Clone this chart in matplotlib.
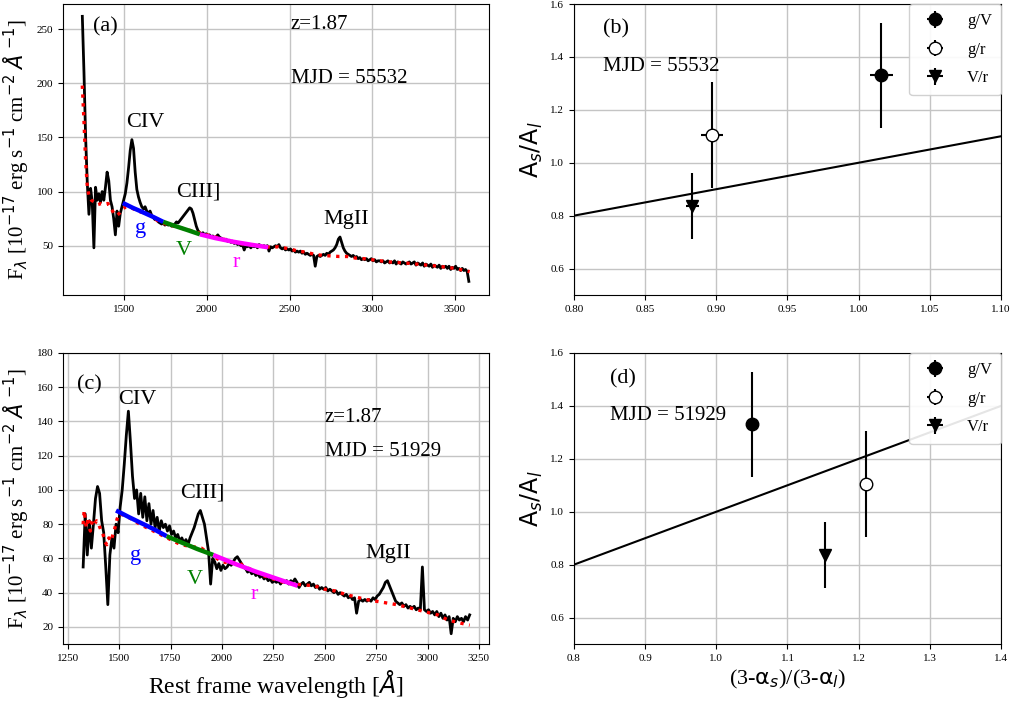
import numpy as np
import matplotlib
matplotlib.use("Agg")
import matplotlib.pyplot as plt

plt.rcParams['font.family'] = ['Liberation Serif', 'DejaVu Sans']
plt.rcParams['mathtext.fontset'] = 'dejavusans'

# ---------------- spectrum at MJD 55532 (10 A sampling from 1245 A) ----------------
start_a = 1245
flux_a = [
    262, 210, 150, 108, 79, 103, 90, 48, 104, 92,
    98, 90, 100, 92, 104, 118, 110, 92, 86, 75,
    60, 82, 68, 80, 86, 92, 98, 108, 122, 138,
    148, 140, 118, 102, 95, 90, 86, 84, 86, 82,
    80, 82, 78, 76, 74, 75, 72, 71, 70, 71,
    69, 70, 69, 70, 68, 69, 70, 72, 71, 73,
    75, 77, 79, 81, 83, 85, 84, 80, 74, 68,
    64, 62, 61, 62, 60, 61, 59, 60, 58, 59,
    57, 58, 60, 58, 57, 56, 55, 56, 54, 55,
    53, 54, 52, 53, 51, 52, 50, 51, 46, 50,
    49, 50, 48, 50, 49, 50, 48, 51, 50, 49,
    50, 49, 50, 45, 49, 48, 49, 50, 49, 51,
    48, 47, 48, 46, 47, 46, 47, 45, 46, 44,
    45, 44, 45, 43, 44, 42, 43, 42, 41, 42,
    41, 31, 40, 41, 40, 41, 42, 41, 43, 42,
    44, 45, 46, 48, 51, 56, 58, 53, 48, 45,
    43, 42, 41, 40, 41, 39, 40, 38, 39, 37,
    38, 37, 38, 36, 37, 38, 36, 37, 35, 36,
    36, 35, 36, 34, 35, 36, 34, 35, 34, 36,
    33, 35, 34, 33, 35, 34, 33, 34, 35, 33,
    34, 35, 32, 34, 33, 32, 34, 31, 33, 32,
    31, 33, 30, 32, 31, 30, 32, 29, 31, 30,
    31, 29, 31, 28, 30, 29, 31, 28, 29, 27,
    29, 27, 28, 26, 17,
]

model_wave_a = [1245, 1255, 1265, 1275, 1285, 1300, 1320, 1340, 1360, 1380,
                1400, 1420, 1440, 1455, 1470, 1490, 1510, 1540, 1570, 1600,
                1630, 1660, 1700, 1750, 1800, 1850, 1900, 1950, 2000, 2050,
                2100, 2150, 2200, 2250, 2300, 2350, 2400, 2430, 2500, 2550,
                2600, 2650, 2700, 2750, 2800, 2850, 2900, 2950, 3000, 3100,
                3200, 3300, 3400, 3500, 3590]
model_flux_a = [198, 165, 128, 105, 96, 92, 90, 88, 89, 88,
                89, 84, 79, 78, 80, 84, 86, 85, 83, 81,
                80, 78, 73, 70, 68, 66, 64, 62, 60, 58,
                56, 54, 52, 51, 50, 49, 48.5, 49, 47, 45,
                44, 42, 41, 40.5, 40, 40, 38.5, 38, 37, 35,
                34, 32.5, 31, 29, 26]

g_wave_a, g_flux_a = [1490, 1550, 1610, 1675, 1735], [89.5, 85, 81, 76.5, 72]
v_wave_a, v_flux_a = [1735, 1800, 1880, 1957], [72, 68.5, 64.5, 60.5]
r_wave_a, r_flux_a = [1957, 2050, 2160, 2270, 2370], [60.5, 57, 53.6, 50.8, 48.5]

# ---------------- spectrum at MJD 51929 (10 A sampling from 1325 A) ----------------
start_c = 1325
flux_c = [
    55, 86, 62, 82, 66, 80, 95, 102, 98, 82,
    75, 55, 33, 62, 72, 66, 80, 75, 90, 100,
    115, 132, 146, 128, 108, 95, 100, 86, 98, 84,
    96, 82, 92, 80, 88, 78, 84, 76, 82, 78,
    80, 76, 79, 74, 76, 72, 74, 70, 72, 69,
    71, 68, 72, 75, 78, 82, 86, 88, 84, 80,
    72, 64, 45, 60, 58, 54, 57, 53, 56, 54,
    55, 57, 56, 58, 60, 61, 59, 57, 55, 54,
    52, 53, 51, 52, 50, 51, 49, 50, 48, 49,
    47, 48, 46, 47, 46, 47, 45, 47, 46, 47,
    45, 47, 46, 48, 46, 43, 45, 46, 44, 45,
    46, 44, 45, 43, 44, 42, 43, 42, 43, 41,
    42, 41, 40, 41, 39, 40, 39, 38, 39, 37,
    38, 36, 37, 28, 35, 36, 35, 36, 35, 36,
    35, 37, 36, 38, 39, 41, 43, 46, 47, 44,
    41, 38, 35, 34, 33, 34, 32, 33, 31, 32,
    31, 32, 30, 31, 30, 55, 30, 29, 30, 28,
    29, 27, 29, 26, 28, 25, 27, 24, 26, 16,
    25, 23, 26, 24, 25, 23, 26, 24, 27,
]

model_wave_c = [1325, 1330, 1340, 1350, 1360, 1370, 1380, 1390, 1400, 1410,
                1420, 1430, 1440, 1450, 1460, 1470, 1480, 1490, 1500, 1530,
                1560, 1600, 1650, 1700, 1750, 1800, 1850, 1900, 1950, 2000,
                2050, 2080, 2100, 2150, 2200, 2250, 2300, 2350, 2400, 2450,
                2500, 2550, 2600, 2650, 2700, 2750, 2800, 2850, 2900, 2950,
                3000, 3050, 3100, 3150, 3205]
model_flux_c = [80, 88, 78, 84, 76, 82, 80, 82, 80, 77,
                75, 70, 68, 72, 70, 74, 78, 83, 86, 85,
                83, 80, 77, 74, 71, 68, 67, 66, 62, 58,
                57, 58, 56, 53, 50, 48, 46, 45, 44.5, 44,
                42, 41, 39, 37.5, 36, 35, 34, 33, 31.5, 30,
                28.5, 27, 24, 22.5, 21]

g_wave_c, g_flux_c = [1485, 1550, 1610, 1670, 1731], [88, 84, 80.5, 77, 73]
v_wave_c, v_flux_c = [1731, 1800, 1880, 1958], [73, 69.5, 65.5, 62]
r_wave_c, r_flux_c = [1958, 2060, 2160, 2270, 2368], [62, 57, 52.5, 48, 44]

# ---------------- amplitude ratio vs. spectral-index ratio ----------------
ratio_labels = ['g/V', 'g/r', 'V/r']
amp_ratio = [1.33, 1.105, 0.835]
amp_err = [0.2, 0.2, 0.125]
idx_ratio_55532 = [1.016, 0.897, 0.883]
idx_err_55532 = [0.008, 0.0075, 0.0045]
idx_ratio_51929 = [1.05, 1.21, 1.152]
idx_err_51929 = [0.006, 0.006, 0.004]

W, H = 1012, 707
fig = plt.figure(figsize=(W / 100, H / 100), dpi=100)


def box(l, t, r, b):
    return [l / W, 1 - b / H, (r - l) / W, (b - t) / H]


ax_a = fig.add_axes(box(63, 4, 489, 295))
ax_b = fig.add_axes(box(574, 4, 1001, 295))
ax_c = fig.add_axes(box(63, 353, 489, 644))
ax_d = fig.add_axes(box(574, 353, 1001, 644))

ylab = r'F$_\lambda$ [10$^{-17}$ erg s$^{-1}$ cm$^{-2}$ $\mathit{\AA}$ $^{-1}$]'


def spectrum_panel(ax, start, flux, mw, mf, segs, lines, tag, tagpos, zpos, mjdpos, mjd, xlim, ylim):
    wave = start + 10 * np.arange(len(flux))
    ax.plot(wave, flux, color='black', lw=2.0, zorder=2)
    ax.plot(mw, mf, color='red', ls=':', lw=2.4, zorder=3)
    for (sw, sf, col, lab, lx, ly) in segs:
        ax.plot(sw, sf, color=col, lw=3.2, solid_capstyle='butt', zorder=4)
        ax.text(lx, ly, lab, color=col, fontsize=16)
    for (name, lx, ly) in lines:
        ax.text(lx, ly, name, fontsize=16)
    ax.text(tagpos[0], tagpos[1], tag, fontsize=16, transform=ax.transAxes)
    ax.text(zpos[0], zpos[1], 'z=1.87', fontsize=15, transform=ax.transAxes)
    ax.text(mjdpos[0], mjdpos[1], mjd, fontsize=15, transform=ax.transAxes)
    ax.set_xlim(*xlim)
    ax.set_ylim(*ylim)
    ax.set_ylabel(ylab, fontsize=15)
    ax.grid(True, color='#c4c4c4', lw=1)
    ax.set_axisbelow(True)
    ax.tick_params(labelsize=8)


spectrum_panel(
    ax_a, start_a, flux_a, model_wave_a, model_flux_a,
    [(g_wave_a, g_flux_a, 'blue', 'g', 1562, 61.8),
     (v_wave_a, v_flux_a, 'green', 'V', 1812, 41.4),
     (r_wave_a, r_flux_a, 'magenta', 'r', 2152, 30.6)],
    [('CIV', 1509, 160), ('CIII]', 1810, 95.4), ('MgII', 2703, 70)],
    '(a)', (0.07, 0.905), (0.535, 0.914), (0.535, 0.727), 'MJD = 55532',
    (1128, 3707), (4.4, 273.4))
ax_a.set_xticks([1500, 2000, 2500, 3000, 3500])
ax_a.set_yticks([50, 100, 150, 200, 250])

spectrum_panel(
    ax_c, start_c, flux_c, model_wave_c, model_flux_c,
    [(g_wave_c, g_flux_c, 'blue', 'g', 1551, 59.3),
     (v_wave_c, v_flux_c, 'green', 'V', 1829, 45.3),
     (r_wave_c, r_flux_c, 'magenta', 'r', 2140, 36)],
    [('CIV', 1496, 150.4), ('CIII]', 1797, 95.3), ('MgII', 2700, 60.3)],
    '(c)', (0.034, 0.873), (0.615, 0.764), (0.615, 0.646), 'MJD = 51929',
    (1227, 3299), (10, 180))
ax_c.set_xticks(np.arange(1250, 3251, 250))
ax_c.set_yticks(np.arange(20, 181, 20))
ax_c.set_xlabel(r'Rest frame wavelength [$\mathit{\AA}$]', fontsize=17)


def ratio_panel(ax, xs, xerrs, tag, tagpos, mjd, mjdpos, xlim, xticks):
    styles = [dict(marker='o', mfc='black'),
              dict(marker='o', mfc='white'),
              dict(marker='v', mfc='black')]
    ax.plot(xlim, xlim, color='black', lw=1.5, zorder=2)
    for x, xe, y, ye, lab, st in zip(xs, xerrs, amp_ratio, amp_err, ratio_labels, styles):
        ax.errorbar(x, y, xerr=xe, yerr=ye, fmt=st['marker'], mfc=st['mfc'],
                    mec='black', ms=9, color='black', ecolor='black',
                    elinewidth=1.5, capsize=0, label=lab, zorder=3)
    ax.set_xlim(*xlim)
    ax.set_ylim(0.5, 1.6)
    ax.set_xticks(xticks)
    ax.set_yticks([0.6, 0.8, 1.0, 1.2, 1.4, 1.6])
    ax.grid(True, color='#c4c4c4', lw=1)
    ax.set_axisbelow(True)
    ax.tick_params(labelsize=8)
    ax.set_ylabel(r'A$_s$/A$_l$', fontsize=17, family='DejaVu Sans')
    ax.text(tagpos[0], tagpos[1], tag, fontsize=16, transform=ax.transAxes)
    ax.text(mjdpos[0], mjdpos[1], mjd, fontsize=15, transform=ax.transAxes)
    leg = ax.legend(loc='upper right', fontsize=12, borderaxespad=0,
                    labelspacing=0.75, handletextpad=0.9, borderpad=0.55,
                    framealpha=0.9, handlelength=2.0)
    leg.get_frame().set_edgecolor('#cccccc')


ratio_panel(ax_b, idx_ratio_55532, idx_err_55532, '(b)', (0.069, 0.899),
            'MJD = 55532', (0.069, 0.771), (0.8, 1.1),
            [0.80, 0.85, 0.90, 0.95, 1.00, 1.05, 1.10])
ax_b.xaxis.set_major_formatter(matplotlib.ticker.FormatStrFormatter('%.2f'))
ratio_panel(ax_d, idx_ratio_51929, idx_err_51929, '(d)', (0.084, 0.896),
            'MJD = 51929', (0.084, 0.77), (0.8, 1.4),
            [0.8, 0.9, 1.0, 1.1, 1.2, 1.3, 1.4])
ax_d.set_xlabel(r'(3-$\mathrm{\alpha}_{s}$)/(3-$\mathrm{\alpha}_{l}$)', fontsize=16)

fig.savefig('out.png', dpi=100)
